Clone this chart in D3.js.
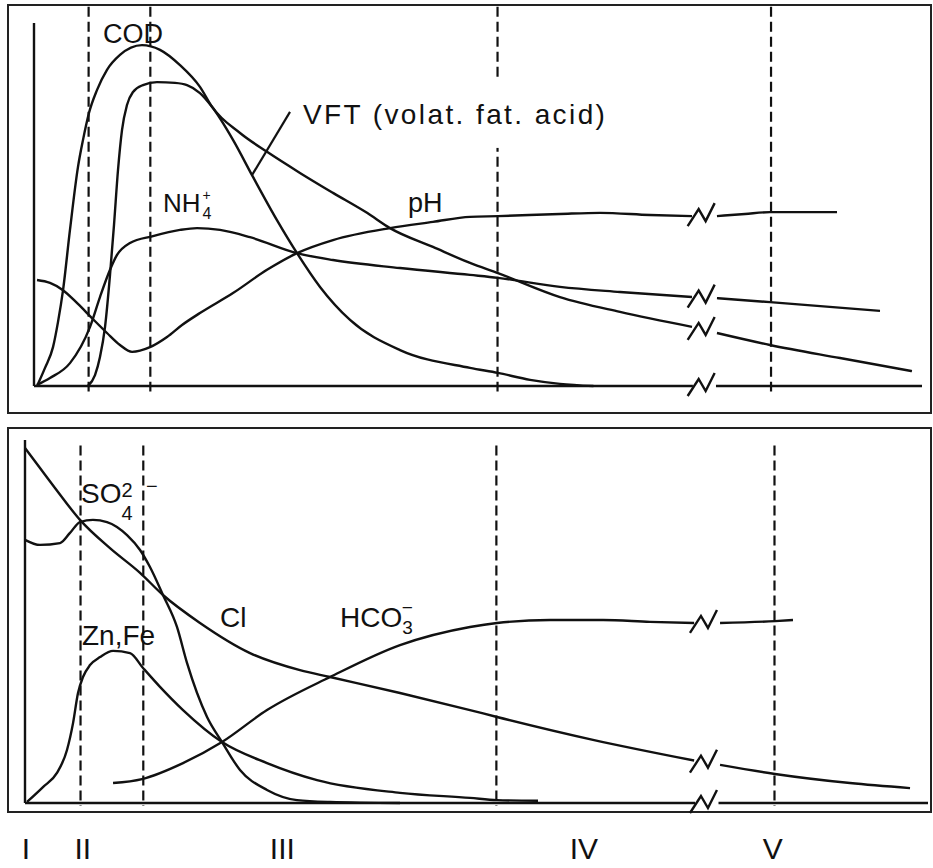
<!DOCTYPE html>
<html>
<head>
<meta charset="utf-8">
<script src="https://cdn.jsdelivr.net/npm/d3@7"></script>
<style>
  body { margin: 0; background: #fff; }
  svg text { font-family: "Liberation Sans", Arial, sans-serif; fill: #111; }
</style>
</head>
<body>
<div id="chart"></div>
<script>
// time axis runs 0..100 in both panels, values 0..100 (relative)
var boundaries = [6.15, 13.1, 52.2, 83.0];   // dashed phase limits
var breakAt = 75.3;                          // axis break
var breakGap = [74.2, 76.8];
var phaseNames = ["I", "II", "III", "IV", "V"];
var phaseLabelX = [0.1, 6.4, 28.5, 61.9, 82.8];

// top panel
var cod = [[0.34,0],[1.24,5.0],[2.14,10.7],[2.7,17.6],[3.27,26.4],[4.05,43.0],[4.95,60.3],[5.52,67.8],
  [6.19,75.2],[7.09,81.5],[8.22,87.1],[9.68,91.2],[12.16,93.9],[14.19,92.6],[16.44,88.4],[18.69,82.4],
  [20.05,76.9],[23.2,69.7],[26.24,64.5],[29.95,58.7],[33.67,53.2],[37.5,47.7],[40.09,43.5],[44.93,38.3],
  [49.1,33.9],[52.25,31.1],[59.23,24.5],[65.99,20.4],[74.1,16.3],null,[76.91,14.6],[82.88,11.3],
  [90.77,7.7],[98.87,4.1]];
var vft = [[6.08,0],[6.87,3.0],[7.43,8.0],[8.0,16.3],[8.56,30.6],[9.01,44.4],[9.46,59.5],[9.91,70.5],
  [10.47,77.4],[11.15,81.0],[12.27,82.9],[13.85,83.7],[15.88,83.5],[17.23,82.9],[18.69,80.7],[20.05,76.9],
  [22.41,67.8],[24.66,57.6],[27.36,45.7],[29.62,36.6],[32.21,27.3],[35.59,18.2],[41.22,9.9],[49.1,5.0],
  [52.25,3.6],[55.86,1.7],[59.23,0.6],[63,0]];
var nh4 = [[0.34,0.3],[1.8,2.2],[4.05,6.3],[6.31,16.3],[7.43,24.5],[8.56,32.0],[9.35,36.1],[10.81,39.4],
  [13.4,41.3],[16.44,43.0],[18.36,43.5],[20.95,43.0],[24.32,41.0],[29.62,36.6],[33.67,34.7],[41.22,32.5],
  [49.1,30.6],[52.25,29.8],[59.23,27.3],[65.99,25.9],[74.1,24.5],null,[76.91,24.2],[82.88,23.1],[95.27,20.7]];
var ph = [[0.34,29.2],[1.8,28.4],[3.27,26.4],[4.95,22.6],[6.53,18.7],[8.22,14.6],[9.68,11.3],[11.04,9.4],
  [13.06,10.7],[14.98,13.5],[16.67,16.8],[18.69,20.1],[22.41,25.6],[26.24,32.0],[29.62,36.6],[33.67,40.2],
  [40.09,43.5],[44.93,45.2],[49.1,46.6],[52.25,46.8],[59.23,47.4],[63.74,47.7],[69.37,47.1],[74.1,46.8],
  null,[76.91,46.8],[80.07,47.4],[82.88,47.9],[90.43,47.9]];

// bottom panel
var cl = [[0,97.8],[1.66,92.3],[3.32,86.8],[6.09,78.0],[9.41,70.2],[12.74,63.4],[15.28,57.3],[19.38,49.6],
  [24.92,41.3],[30.45,36.6],[33.78,34.7],[41.53,30.3],[49.28,25.6],[52.27,23.7],[62.9,17.4],[74.1,11.7],
  null,[76.97,10.5],[83.06,8.0],[91.36,5.5],[98.01,4.1]];
var so4 = [[0,72.5],[1.66,71.1],[3.88,71.6],[4.98,74.4],[6.09,77.4],[7.53,78.0],[9.08,77.4],[11.3,73.8],
  [12.74,69.7],[13.84,65.0],[15.28,57.3],[16.83,48.5],[17.94,38.6],[20.16,23.7],[21.82,16.8],[23.81,9.1],
  [26.8,3.6],[30.12,0.8],[33.78,0.3],[41.53,0]];
var znfe = [[0.22,0.3],[1.99,4.4],[3.54,8.3],[4.65,14.6],[5.32,22.0],[5.87,30.3],[6.42,34.7],[7.2,38.0],
  [8.31,40.2],[9.75,41.9],[11.63,41.3],[13.07,37.2],[14.95,32.0],[17.5,25.6],[21.82,16.8],[26.8,11.0],
  [32.34,6.3],[41.53,2.8],[49.28,1.4],[52.27,0.8],[56.81,0.6]];
var hco3 = [[9.75,5.5],[12.96,6.6],[17.5,11.0],[21.82,16.8],[26.8,25.6],[33.78,34.7],[41.53,43.5],
  [49.28,48.5],[52.27,49.6],[58.14,50.4],[64.01,50.4],[69.21,49.9],[74.1,49.6],null,[76.97,49.6],
  [83.06,50.1],[85.05,50.4]];

var width = 933, height = 868;

var svg = d3.select("#chart").append("svg")
    .attr("width", width)
    .attr("height", height);

var line = d3.line()
    .defined(function (d) { return d !== null; })
    .curve(d3.curveMonotoneX);

function breakMark(g, cx, cy) {
    g.append("path")
        .attr("d", "M" + (cx - 15) + "," + (cy + 10) + "L" + (cx - 4) + "," + (cy - 7) +
            "L" + (cx + 3) + "," + (cy + 5) + "L" + (cx + 12) + "," + (cy - 13))
        .attr("fill", "none")
        .attr("stroke", "#111")
        .attr("stroke-width", 2.4);
}

function drawPanel(opt) {
    var g = svg.append("g");
    var x = d3.scaleLinear().domain([0, 100]).range(opt.xRange);
    var y = d3.scaleLinear().domain([0, 100]).range(opt.yRange);

    g.append("rect")
        .attr("x", opt.box[0]).attr("y", opt.box[1])
        .attr("width", opt.box[2] - opt.box[0]).attr("height", opt.box[3] - opt.box[1])
        .attr("fill", "#fff").attr("stroke", "#222").attr("stroke-width", 2);

    // phase limits
    g.selectAll(".phase").data(boundaries).enter().append("line")
        .attr("x1", function (d) { return x(d); })
        .attr("x2", function (d) { return x(d); })
        .attr("y1", y(opt.dashExtent[0]))
        .attr("y2", y(opt.dashExtent[1]))
        .attr("stroke", "#111")
        .attr("stroke-width", 2.2)
        .attr("stroke-dasharray", "10,5");

    // axes
    g.append("line")
        .attr("x1", x(0)).attr("x2", x(0)).attr("y1", y(0)).attr("y2", y(100))
        .attr("stroke", "#111").attr("stroke-width", 2.4);
    [[0, breakGap[0]], [breakGap[1], 100]].forEach(function (s) {
        g.append("line")
            .attr("x1", x(s[0])).attr("x2", x(s[1])).attr("y1", y(0)).attr("y2", y(0))
            .attr("stroke", "#111").attr("stroke-width", 2.4);
    });
    breakMark(g, x(breakAt), y(0));

    line.x(function (d) { return x(d[0]); }).y(function (d) { return y(d[1]); });

    opt.series.forEach(function (s) {
        g.append("path")
            .attr("d", line(s))
            .attr("fill", "none")
            .attr("stroke", "#111")
            .attr("stroke-width", 2.4);
        var i = s.indexOf(null);
        if (i > 0) {
            breakMark(g, x(breakAt), y((s[i - 1][1] + s[i + 1][1]) / 2));
        }
    });

    if (opt.leader) {
        g.append("line")
            .attr("x1", x(opt.leader[0][0])).attr("y1", y(opt.leader[0][1]))
            .attr("x2", x(opt.leader[1][0])).attr("y2", y(opt.leader[1][1]))
            .attr("stroke", "#111").attr("stroke-width", 2.2);
    }

    opt.labels.forEach(function (l) {
        var t = g.append("text")
            .attr("x", x(l.x)).attr("y", y(l.y))
            .style("font-size", l.size + "px");
        if (l.spacing) t.style("letter-spacing", l.spacing + "px");
        t.append("tspan").text(l.text);
        if (l.sub) {
            t.append("tspan").attr("dx", l.sub.dx).attr("dy", l.sub.dy)
                .style("font-size", l.sub.size + "px").text(l.sub.text);
        }
        if (l.sup) {
            t.append("tspan").attr("dx", l.sup.dx).attr("dy", l.sup.dy)
                .style("font-size", l.sup.size + "px").text(l.sup.text);
        }
        if (l.knockout) {
            var b = t.node().getBBox();
            g.insert("rect", function () { return t.node(); })
                .attr("x", b.x - 3).attr("y", b.y - 18)
                .attr("width", b.width + 6).attr("height", b.height + 36)
                .attr("fill", "#fff");
        }
    });

    return x;
}

drawPanel({
    box: [8, 5, 931, 413],
    xRange: [34, 922],
    yRange: [386, 23],
    dashExtent: [104.5, -1.5],
    series: [cod, vft, nh4, ph],
    leader: [[28.83, 75.5], [24.55, 58.1]],
    labels: [
        { text: "COD", x: 7.77, y: 94.5, size: 27 },
        { text: "VFT (volat. fat. acid)", x: 30.29, y: 72.2, size: 28, spacing: 2.4, knockout: true },
        { text: "NH", x: 14.53, y: 47.9, size: 26,
          sub: { text: "4", dx: 2, dy: 7, size: 16 }, sup: { text: "+", dx: -9, dy: -19, size: 14 } },
        { text: "pH", x: 42.12, y: 47.9, size: 27 }
    ]
});

var xb = drawPanel({
    box: [8, 428, 931, 812],
    xRange: [25, 928],
    yRange: [803, 440],
    dashExtent: [98.5, -0.8],
    series: [cl, so4, znfe, hco3],
    labels: [
        { text: "SO", x: 6.2, y: 82.6, size: 28,
          sub: { text: "4", dx: 0, dy: 17, size: 20 }, sup: { text: "2", dx: -11, dy: -23, size: 20 } },
        { text: "\u2212", x: 13.4, y: 85.4, size: 20 },
        { text: "Zn,Fe", x: 6.31, y: 43.5, size: 28 },
        { text: "Cl", x: 21.59, y: 48.5, size: 28 },
        { text: "HCO", x: 34.88, y: 48.5, size: 28,
          sub: { text: "3", dx: 0, dy: 7, size: 19 }, sup: { text: "\u2212", dx: -11, dy: -20, size: 19 } }
    ]
});

// phase numerals under the lower panel
svg.selectAll(".phase-label").data(phaseNames).enter().append("text")
    .attr("x", function (d, i) { return xb(phaseLabelX[i]); })
    .attr("y", height - 9)
    .attr("text-anchor", "middle")
    .style("font-size", "30px")
    .text(function (d) { return d; });
</script>
</body>
</html>
